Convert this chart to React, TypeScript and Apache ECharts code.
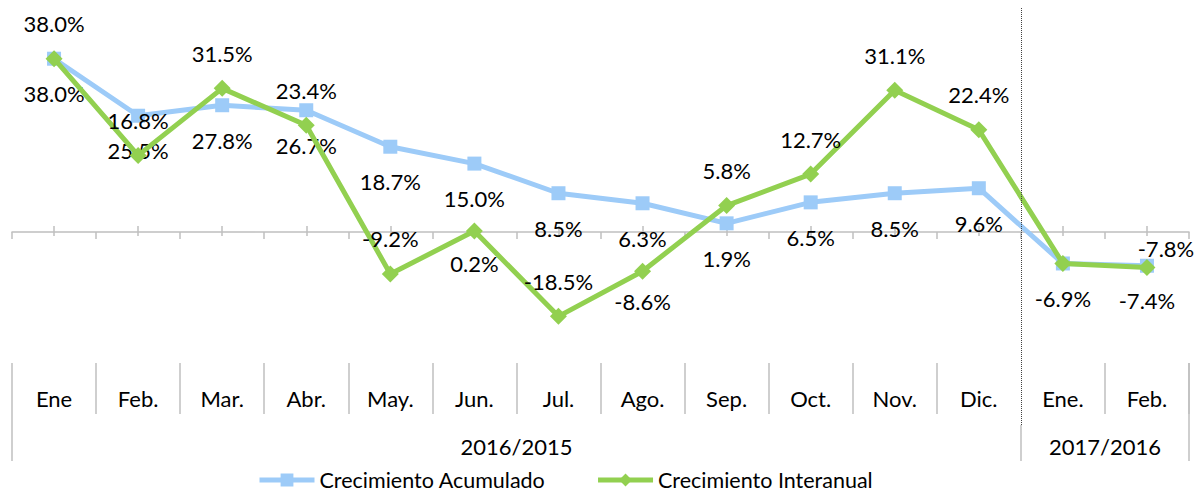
import React, { useEffect, useRef } from 'react';
import * as echarts from 'echarts';

// ---------------- data ----------------
const categories = ['Ene', 'Feb.', 'Mar.', 'Abr.', 'May.', 'Jun.', 'Jul.', 'Ago.', 'Sep.', 'Oct.', 'Nov.', 'Dic.', 'Ene.', 'Feb.'];
const acumulado = [38.0, 25.5, 27.8, 26.7, 18.7, 15.0, 8.5, 6.3, 1.9, 6.5, 8.5, 9.6, -6.9, -7.4];
const interanual = [38.0, 16.8, 31.5, 23.4, -9.2, 0.2, -18.5, -8.6, 5.8, 12.7, 31.1, 22.4, -6.9, -7.8];
const groups = ['2016/2015', '2017/2016'];
const groupSpans = [12, 2];
const seriesNames = ['Crecimiento Acumulado', 'Crecimiento Interanual'];

// ---------------- label placement (style only) ----------------
const acumLabelPos = ['bottom', 'bottom', 'bottom', 'bottom', 'bottom', 'bottom', 'bottom', 'bottom', 'bottom', 'bottom', 'bottom', 'bottom', 'bottom', 'bottom'];
const interLabelPos = ['top', 'top', 'top', 'top', 'top', 'bottom', 'top', 'bottom', 'top', 'top', 'top', 'top', 'none', 'top'];
const interLabelDistance = [15, 15, 15, 15, 15, 12, 15, 10, 15, 15, 15, 15, 15, -1];
const interLabelOffsetX = [0, 0, 0, 0, 0, 0, 0, 0, 0, 0, 0, 0, 0, 19];

// ---------------- layout ----------------
const FONT = 'Lato';
const FS = 22;
const LH = 23;
const LEFT = 12;
const WIDTH = 1177;
const ZERO_Y = 232;
const PX_PER_UNIT = 4.56;
const Y_MIN = -20;
const Y_MAX = 40;
const BLUE = '#9DCBF8';
const GREEN = '#92D050';
const AXIS_GRAY = '#BFBFBF';

const fmt = (v: number) => v.toFixed(1) + '%';

export default function App() {
  const ref = useRef<HTMLDivElement>(null);

  useEffect(() => {
    if (!ref.current) return;
    const chart = echarts.init(ref.current, undefined, { renderer: 'svg' });

    const n = categories.length;
    const halfKeys = Array.from({ length: 2 * n + 1 }, (_, i) => String(i));
    const groupBounds: number[] = [0];
    groupSpans.forEach((s) => groupBounds.push(groupBounds[groupBounds.length - 1] + 2 * s));
    const groupCenters = groupSpans.map((s, i) => groupBounds[i] + s);
    const innerBounds = groupBounds.slice(1, -1);
    const outerBounds = [groupBounds[0], groupBounds[groupBounds.length - 1]];
    const monthSkip = innerBounds.map((b) => b / 2);

    const mainTop = ZERO_Y - Y_MAX * PX_PER_UNIT;
    const mainHeight = (Y_MAX - Y_MIN) * PX_PER_UNIT;

    const textBase = { fontFamily: FONT, fontSize: FS, lineHeight: LH, color: '#000' };

    const acumData = acumulado.map((v, i) => ({
      value: v,
      label: { show: true, position: acumLabelPos[i], distance: 16.5 },
    }));
    const interData = interanual.map((v, i) => ({
      value: v,
      label:
        interLabelPos[i] === 'none'
          ? { show: false }
          : { show: true, position: interLabelPos[i], distance: interLabelDistance[i], offset: [interLabelOffsetX[i], 0] },
    }));

    const hiddenY = (gi: number, min = 0, max = 1) => ({
      type: 'value', gridIndex: gi, min, max, show: false,
    });

    const option: any = {
      animation: false,
      backgroundColor: '#fff',
      grid: [
        { left: LEFT, width: WIDTH, top: mainTop, height: mainHeight },
        { left: LEFT, width: WIDTH, top: mainTop + 4, height: mainHeight },
        { left: LEFT, width: WIDTH, top: 340, height: 23 },
        { left: LEFT, width: WIDTH, top: 340, height: 23 },
        { left: LEFT, width: WIDTH, top: 8, height: 417 },
      ],
      xAxis: [
        {
          type: 'category', gridIndex: 0, data: categories, boundaryGap: true,
          axisLine: { onZero: true, lineStyle: { color: AXIS_GRAY, width: 1.5 } },
          axisTick: { show: true, length: 7, lineStyle: { color: AXIS_GRAY, width: 1.5 } },
          axisLabel: { show: false },
        },
        {
          type: 'category', gridIndex: 1, data: categories, boundaryGap: true,
          axisLine: { show: false, onZero: true },
          axisTick: { show: true, alignWithLabel: true, inside: true, length: 10, lineStyle: { color: AXIS_GRAY, width: 1.5 } },
          axisLabel: { show: false },
        },
        {
          type: 'category', gridIndex: 2, data: categories, boundaryGap: true, position: 'bottom',
          axisLine: { show: false, onZero: false },
          axisTick: {
            show: true, length: 51, lineStyle: { color: AXIS_GRAY, width: 1.5 },
            interval: (idx: number) => idx !== 0 && !monthSkip.includes(idx),
          },
          axisLabel: { show: true, interval: 0, margin: 23.5, ...textBase },
        },
        {
          type: 'category', gridIndex: 3, data: halfKeys, boundaryGap: false, position: 'bottom',
          axisLine: { show: false, onZero: false },
          axisTick: {
            show: true, length: 98, lineStyle: { color: AXIS_GRAY, width: 1.5 },
            interval: (idx: number) => outerBounds.includes(idx),
          },
          axisLabel: { show: false },
        },
        {
          type: 'category', gridIndex: 4, data: halfKeys, boundaryGap: false, position: 'bottom',
          axisLine: { show: false, onZero: false },
          axisTick: {
            show: true, length: 36, lineStyle: { color: AXIS_GRAY, width: 1.5 },
            interval: (idx: number) => innerBounds.includes(idx),
          },
          axisLabel: {
            show: true, interval: 0, margin: 9.5, ...textBase,
            formatter: (_v: string, idx: number) => {
              const g = groupCenters.indexOf(idx);
              return g >= 0 ? groups[g] : '';
            },
          },
        },
      ],
      yAxis: [
        hiddenY(0, Y_MIN, Y_MAX),
        hiddenY(1, Y_MIN, Y_MAX),
        hiddenY(2),
        hiddenY(3),
        hiddenY(4),
      ],
      legend: {
        data: seriesNames,
        left: 257,
        top: 469,
        padding: 0,
        itemGap: 50,
        itemWidth: 55,
        itemHeight: 16,
        lineStyle: { width: 5 },
        textStyle: { fontFamily: FONT, fontSize: 21.5, lineHeight: 22, color: '#000' },
      },
      series: [
        {
          name: seriesNames[0], type: 'line', xAxisIndex: 0, yAxisIndex: 0,
          data: acumData,
          symbol: 'rect', symbolSize: 14, showAllSymbol: true,
          lineStyle: { color: BLUE, width: 5 },
          itemStyle: { color: BLUE },
          label: { ...textBase, formatter: (p: any) => fmt(p.value) },
          z: 2,
        },
        {
          name: seriesNames[1], type: 'line', xAxisIndex: 0, yAxisIndex: 0,
          data: interData,
          symbol: 'diamond', symbolSize: 17, showAllSymbol: true,
          lineStyle: { color: GREEN, width: 5 },
          itemStyle: { color: GREEN },
          label: { ...textBase, formatter: (p: any) => fmt(p.value) },
          z: 3,
        },
        {
          name: 'separator', type: 'line', xAxisIndex: 4, yAxisIndex: 4,
          data: [],
          markLine: {
            silent: true, symbol: 'none', label: { show: false },
            lineStyle: { type: 'dotted', color: '#404040', width: 1 },
            data: innerBounds.map((b) => ({ xAxis: String(b) })),
          },
        },
      ],
    };

    chart.setOption(option);
    return () => chart.dispose();
  }, []);

  return (
    <div
      ref={ref}
      style={{ position: 'fixed', left: 0, top: 0, width: 1196, height: 493, background: '#fff' }}
    />
  );
}
